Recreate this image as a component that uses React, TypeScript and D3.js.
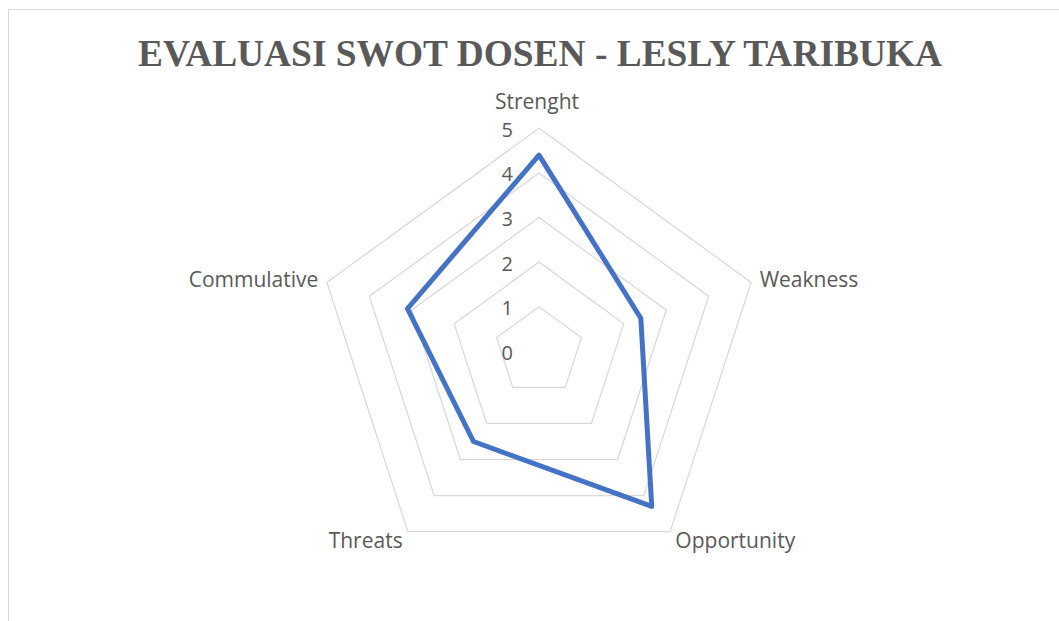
import React, { useRef, useEffect } from "react";
import * as d3 from "d3";

// chart data
const axes = ["Strenght", "Weakness", "Opportunity", "Threats", "Commulative"];
const scores = [4.4, 2.4, 4.3, 2.5, 3.1];
const ticks = [0, 1, 2, 3, 4, 5];
const title = "EVALUASI SWOT DOSEN - LESLY TARIBUKA";

const App = () => {
  const svgRef = useRef<SVGSVGElement>(null);

  useEffect(() => {
    const width = 1059;
    const height = 621;
    const cx = 539;
    const cy = 351.3;
    const radius = 223;
    const textColor = "#595959";
    const gridColor = "#d9d9d9";

    const svg = d3.select(svgRef.current).attr("width", width).attr("height", height);
    svg.selectAll("*").remove();

    // chart area border (cropped at right/bottom)
    svg
      .append("rect")
      .attr("x", 8.5)
      .attr("y", 9.5)
      .attr("width", 1200)
      .attr("height", 800)
      .attr("fill", "#fff")
      .attr("stroke", gridColor)
      .attr("stroke-width", 1);

    // title
    svg
      .append("text")
      .attr("x", 540)
      .attr("y", 66)
      .attr("text-anchor", "middle")
      .attr("textLength", 804)
      .attr("lengthAdjust", "spacingAndGlyphs")
      .style("font-family", "'Liberation Serif', 'Times New Roman', serif")
      .style("font-weight", "bold")
      .style("font-size", "38px")
      .attr("fill", textColor)
      .text(title);

    const rScale = d3.scaleLinear().domain([0, 5]).range([0, radius]);
    const angle = d3
      .scalePoint<string>()
      .domain(axes)
      .range([0, 2 * Math.PI * (axes.length - 1) / axes.length]);

    const g = svg.append("g").attr("transform", `translate(${cx},${cy})`);

    // grid rings
    const ringLine = d3
      .lineRadial<string>()
      .angle((d) => angle(d)!)
      .curve(d3.curveLinearClosed);

    ticks.forEach((t) => {
      g.append("path")
        .attr("d", ringLine.radius(() => rScale(t))(axes))
        .attr("fill", "none")
        .attr("stroke", gridColor)
        .attr("stroke-width", 1.25);
    });

    // tick labels
    g.selectAll(".tick")
      .data(ticks)
      .enter()
      .append("text")
      .attr("x", -26)
      .attr("y", (d) => -rScale(d) + 1)
      .attr("text-anchor", "end")
      .attr("dominant-baseline", "central")
      .style("font-family", "'Open Sans', sans-serif")
      .style("font-size", "20px")
      .attr("fill", textColor)
      .text((d) => d);

    // axis labels
    g.selectAll(".axis-label")
      .data(axes)
      .enter()
      .append("text")
      .each(function (d) {
        const a = angle(d)!;
        const dx = Math.sin(a);
        const dy = -Math.cos(a);
        const r = rScale(5);
        const ky = 10 + (dy < -0.9 ? 17 : 0);
        d3.select(this)
          .attr("x", r * dx + dx * 9 - (Math.abs(dx) < 0.1 ? 2 : 0))
          .attr("y", r * dy + dy * ky)
          .attr("text-anchor", Math.abs(dx) < 0.1 ? "middle" : dx > 0 ? "start" : "end");
      })
      .attr("dominant-baseline", "central")
      .style("font-family", "'Open Sans', sans-serif")
      .style("font-size", "21px")
      .attr("fill", textColor)
      .text((d) => d);

    // data line
    const dataLine = d3
      .lineRadial<number>()
      .angle((_, i) => angle(axes[i])!)
      .radius((d) => rScale(d))
      .curve(d3.curveLinearClosed);

    g.append("path")
      .datum(scores)
      .attr("d", dataLine)
      .attr("fill", "none")
      .attr("stroke", "#4472c4")
      .attr("stroke-width", 5)
      .attr("stroke-linejoin", "round");
  }, []);

  return (
    <svg
      ref={svgRef}
      style={{ position: "absolute", left: 0, top: 0, display: "block" }}
    ></svg>
  );
};

export default App;
